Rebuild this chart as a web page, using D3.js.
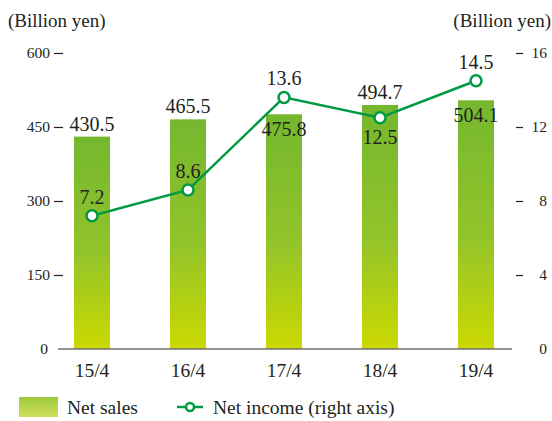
<!DOCTYPE html>
<html>
<head>
<meta charset="utf-8">
<script src="https://cdn.jsdelivr.net/npm/d3@7"></script>
<style>
  body { margin: 0; background: #fff; }
</style>
</head>
<body>
<div id="chart"></div>
<script>
// data
const periods = ["15/4", "16/4", "17/4", "18/4", "19/4"];
const netSales = [430.5, 465.5, 475.8, 494.7, 504.1];
const netIncome = [7.2, 8.6, 13.6, 12.5, 14.5];
const salesTicks = [0, 150, 300, 450, 600];
const incomeTicks = [0, 4, 8, 12, 16];
// label placement: true = above the mark, false = below
const salesLabelAbove = [true, true, false, true, false];
const incomeLabelAbove = [true, true, true, false, true];

const FONT = "'Liberation Serif', 'Times New Roman', serif";
const width = 552, height = 421;
const baseY = 349, topY = 53;

const svg = d3.select("#chart")
  .append("svg")
    .attr("width", width)
    .attr("height", height)
    .attr("font-family", FONT);

const defs = svg.append("defs");
const barGrad = defs.append("linearGradient")
    .attr("id", "barGrad")
    .attr("x1", 0).attr("y1", 0).attr("x2", 0).attr("y2", 1);
barGrad.append("stop").attr("offset", "0%").attr("stop-color", "#74b72f");
barGrad.append("stop").attr("offset", "55%").attr("stop-color", "#93c42a");
barGrad.append("stop").attr("offset", "100%").attr("stop-color", "#ccd900");

const legGrad = defs.append("linearGradient")
    .attr("id", "legGrad")
    .attr("x1", 0).attr("y1", 0).attr("x2", 0).attr("y2", 1);
legGrad.append("stop").attr("offset", "0%").attr("stop-color", "#9bc83c");
legGrad.append("stop").attr("offset", "100%").attr("stop-color", "#cfe05a");

// scales
const x = d3.scaleBand()
  .domain(periods)
  .range([44, 524])
  .paddingInner(0.625)
  .paddingOuter(0.3125);

const yL = d3.scaleLinear().domain([0, 600]).range([baseY, topY]);
const yR = d3.scaleLinear().domain([0, 16]).range([baseY, topY]);

const cx = d => x(d) + x.bandwidth() / 2;

// left axis
const leftAxis = svg.append("g")
  .attr("transform", "translate(63,0)")
  .call(d3.axisLeft(yL).tickValues(salesTicks).tickSize(9).tickPadding(4));
leftAxis.attr("font-family", FONT);
leftAxis.select(".domain").remove();
leftAxis.selectAll(".tick line").attr("stroke", "#231f20").attr("stroke-width", 1.2)
  .filter(d => d === 0).remove();
leftAxis.selectAll(".tick text")
  .attr("fill", "#231f20")
  .style("font-size", "15.5px")
  .attr("x", d => d === 0 ? -15 : -13);

// right axis
const rightAxis = svg.append("g")
  .attr("transform", "translate(516,0)")
  .call(d3.axisRight(yR).tickValues(incomeTicks).tickSize(7));
rightAxis.attr("font-family", FONT);
rightAxis.select(".domain").remove();
rightAxis.selectAll(".tick line").attr("stroke", "#231f20").attr("stroke-width", 1.2)
  .filter(d => d === 0).remove();
rightAxis.selectAll(".tick text")
  .attr("fill", "#231f20")
  .style("font-size", "15.5px")
  .attr("text-anchor", "end")
  .attr("x", 31);

// axis titles
svg.append("text")
  .attr("x", 8).attr("y", 27)
  .attr("fill", "#231f20")
  .style("font-size", "19px")
  .text("(Billion yen)");
svg.append("text")
  .attr("x", 551).attr("y", 27)
  .attr("text-anchor", "end")
  .attr("fill", "#231f20")
  .style("font-size", "19px")
  .text("(Billion yen)");

// bars
svg.selectAll(".bar")
  .data(netSales)
  .enter()
  .append("rect")
    .attr("class", "bar")
    .attr("x", (d, i) => x(periods[i]))
    .attr("y", d => yL(d))
    .attr("width", x.bandwidth())
    .attr("height", d => baseY - yL(d))
    .attr("fill", "url(#barGrad)");

// baseline
svg.append("line")
  .attr("x1", 58).attr("x2", 512)
  .attr("y1", baseY).attr("y2", baseY)
  .attr("stroke", "#6d6e71")
  .attr("stroke-width", 1.5);

// x labels
svg.selectAll(".xlab")
  .data(periods)
  .enter()
  .append("text")
    .attr("class", "xlab")
    .attr("x", d => cx(d))
    .attr("y", 377)
    .attr("text-anchor", "middle")
    .attr("fill", "#231f20")
    .style("font-size", "19.5px")
    .text(d => d);

// bar value labels
svg.selectAll(".salesLab")
  .data(netSales)
  .enter()
  .append("text")
    .attr("class", "salesLab")
    .attr("x", (d, i) => cx(periods[i]))
    .attr("y", (d, i) => salesLabelAbove[i] ? yL(d) - 6 : yL(d) + 22)
    .attr("text-anchor", "middle")
    .attr("fill", "#231f20")
    .style("font-size", "20px")
    .text(d => d.toFixed(1));

// net income line
const line = d3.line()
  .x((d, i) => cx(periods[i]))
  .y(d => yR(d));

svg.append("path")
  .datum(netIncome)
  .attr("d", line)
  .attr("fill", "none")
  .attr("stroke", "#009a44")
  .attr("stroke-width", 2.5);

svg.selectAll(".dot")
  .data(netIncome)
  .enter()
  .append("circle")
    .attr("class", "dot")
    .attr("cx", (d, i) => cx(periods[i]))
    .attr("cy", d => yR(d))
    .attr("r", 5.5)
    .attr("fill", "#fff")
    .attr("stroke", "#009a44")
    .attr("stroke-width", 2.5);

svg.selectAll(".incomeLab")
  .data(netIncome)
  .enter()
  .append("text")
    .attr("class", "incomeLab")
    .attr("x", (d, i) => cx(periods[i]))
    .attr("y", (d, i) => incomeLabelAbove[i] ? yR(d) - 12 : yR(d) + 26)
    .attr("text-anchor", "middle")
    .attr("fill", "#231f20")
    .style("font-size", "20px")
    .text(d => d.toFixed(1));

// legend
const legend = svg.append("g");
legend.append("rect")
  .attr("x", 19).attr("y", 397)
  .attr("width", 39).attr("height", 20)
  .attr("fill", "url(#legGrad)");
legend.append("text")
  .attr("x", 67).attr("y", 414)
  .attr("fill", "#231f20")
  .style("font-size", "19.5px")
  .text("Net sales");
legend.append("line")
  .attr("x1", 177).attr("x2", 203)
  .attr("y1", 407).attr("y2", 407)
  .attr("stroke", "#009a44")
  .attr("stroke-width", 2.5);
legend.append("circle")
  .attr("cx", 190).attr("cy", 407)
  .attr("r", 4)
  .attr("fill", "#fff")
  .attr("stroke", "#009a44")
  .attr("stroke-width", 2.5);
legend.append("text")
  .attr("x", 213).attr("y", 414)
  .attr("fill", "#231f20")
  .style("font-size", "19.5px")
  .text("Net income (right axis)");
</script>
</body>
</html>
